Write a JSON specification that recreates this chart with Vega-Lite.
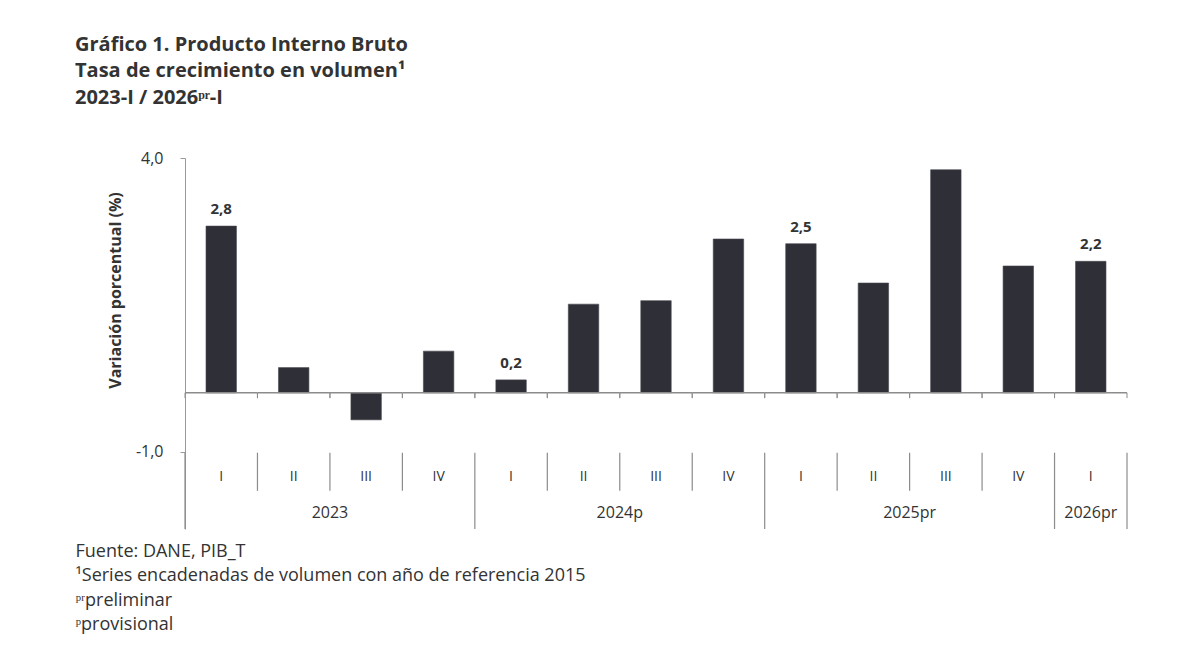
{
  "$schema": "https://vega.github.io/schema/vega-lite/v6.json",
  "width": 942,
  "height": 371,
  "autosize": {"type": "pad"},
  "padding": {"left": 75, "top": 34, "right": 20, "bottom": 10},
  "background": "white",
  "title": {
    "text": ["Gráfico 1. Producto Interno Bruto", "Tasa de crecimiento en volumen¹", "2023-I / 2026ᵖʳ-I"],
    "anchor": "start",
    "frame": "bounds",
    "font": "Open Sans",
    "fontSize": 20,
    "fontWeight": "bold",
    "color": "#333333",
    "lineHeight": 26.5,
    "offset": 38
  },
  "data": {
    "values": [
      {"q": "2023-I", "quarter": "I", "year": "2023", "value": 2.84, "label": "2,8"},
      {"q": "2023-II", "quarter": "II", "year": "2023", "value": 0.43, "label": ""},
      {"q": "2023-III", "quarter": "III", "year": "2023", "value": -0.46, "label": ""},
      {"q": "2023-IV", "quarter": "IV", "year": "2023", "value": 0.71, "label": ""},
      {"q": "2024-I", "quarter": "I", "year": "2024p", "value": 0.22, "label": "0,2"},
      {"q": "2024-II", "quarter": "II", "year": "2024p", "value": 1.51, "label": ""},
      {"q": "2024-III", "quarter": "III", "year": "2024p", "value": 1.57, "label": ""},
      {"q": "2024-IV", "quarter": "IV", "year": "2024p", "value": 2.62, "label": ""},
      {"q": "2025-I", "quarter": "I", "year": "2025pr", "value": 2.54, "label": "2,5"},
      {"q": "2025-II", "quarter": "II", "year": "2025pr", "value": 1.87, "label": ""},
      {"q": "2025-III", "quarter": "III", "year": "2025pr", "value": 3.8, "label": ""},
      {"q": "2025-IV", "quarter": "IV", "year": "2025pr", "value": 2.16, "label": ""},
      {"q": "2026-I", "quarter": "I", "year": "2026pr", "value": 2.24, "label": "2,2"}
    ]
  },
  "layer": [
    {
      "mark": {"type": "bar", "width": {"band": 0.42}, "color": "#2f2f38", "stroke": "#44444e", "strokeWidth": 0.6},
      "encoding": {
        "x": {
          "field": "q", "type": "nominal", "sort": null,
          "scale": {"paddingInner": 0, "paddingOuter": 0},
          "axis": {
            "labels": false, "ticks": false, "domain": false,
            "title": ["Fuente: DANE, PIB_T", "¹Series encadenadas de volumen con año de referencia 2015", "ᵖʳpreliminar", "ᵖprovisional"],
            "titleAnchor": "start", "titleAlign": "left", "titleBaseline": "top",
            "titleX": -110, "titleY": 13,
            "titleFont": "Open Sans", "titleFontSize": 18, "titleFontWeight": "normal",
            "titleColor": "#333333", "titleLineHeight": 24.5
          }
        },
        "y": {
          "field": "value", "type": "quantitative",
          "scale": {"domain": [-2.32, 4], "nice": false, "zero": false},
          "axis": {
            "values": [-1, 4], "grid": false,
            "labelExpr": "replace(replace(format(datum.value, '.1f'), '.', ','), '−', '-')",
            "title": "Variación porcentual (%)",
            "titleFont": "Open Sans", "titleFontSize": 16, "titleFontWeight": "bold", "titleColor": "#333333",
            "titlePadding": 12, "titleY": 132,
            "labelFont": "Open Sans", "labelFontSize": 16, "labelColor": "#333333", "labelPadding": 17,
            "domainColor": "#999999", "tickColor": "#999999", "tickSize": 5
          }
        }
      }
    },
    {
      "mark": {"type": "rule", "color": "#8c8c8c", "strokeWidth": 1.5},
      "encoding": {
        "x": {"field": "q", "type": "nominal", "sort": null, "bandPosition": 0},
        "x2": {"field": "q", "bandPosition": 1},
        "y": {"datum": 0}
      }
    },
    {
      "mark": {"type": "rule", "color": "#8c8c8c", "strokeWidth": 1},
      "encoding": {
        "x": {"field": "q", "type": "nominal", "sort": null, "bandPosition": 0},
        "y": {"datum": 0},
        "y2": {"datum": -0.09}
      }
    },
    {
      "mark": {"type": "rule", "color": "#8c8c8c", "strokeWidth": 1},
      "encoding": {
        "x": {"field": "q", "type": "nominal", "sort": null, "bandPosition": 1},
        "y": {"datum": 0},
        "y2": {"datum": -0.09}
      }
    },
    {
      "mark": {"type": "text", "font": "Open Sans", "fontSize": 15, "fontWeight": "bold", "color": "#333333", "baseline": "bottom", "dy": -9},
      "encoding": {
        "x": {"field": "q", "type": "nominal", "sort": null},
        "y": {"field": "value", "type": "quantitative"},
        "text": {"field": "label"}
      }
    },
    {
      "mark": {"type": "text", "font": "Open Sans", "fontSize": 14, "color": "#333333", "baseline": "middle"},
      "encoding": {
        "x": {"field": "q", "type": "nominal", "sort": null},
        "y": {"datum": -1.43},
        "text": {"field": "quarter"}
      }
    },
    {
      "transform": [{"filter": "datum.quarter != 'I'"}],
      "mark": {"type": "rule", "color": "#8c8c8c", "strokeWidth": 1.2},
      "encoding": {
        "x": {"field": "q", "type": "nominal", "sort": null, "bandPosition": 0},
        "y": {"datum": -1.02},
        "y2": {"datum": -1.67}
      }
    },
    {
      "transform": [{"filter": "datum.quarter == 'I'"}],
      "mark": {"type": "rule", "color": "#8c8c8c", "strokeWidth": 1.2},
      "encoding": {
        "x": {"field": "q", "type": "nominal", "sort": null, "bandPosition": 0},
        "y": {"datum": -1.02},
        "y2": {"datum": -2.32}
      }
    },
    {
      "transform": [{"filter": "datum.year == '2026pr'"}],
      "mark": {"type": "rule", "color": "#8c8c8c", "strokeWidth": 1.2},
      "encoding": {
        "x": {"field": "q", "type": "nominal", "sort": null, "bandPosition": 1},
        "y": {"datum": -1.02},
        "y2": {"datum": -2.32}
      }
    },
    {
      "transform": [{"filter": "datum.quarter == 'II'"}],
      "mark": {"type": "text", "font": "Open Sans", "fontSize": 16, "color": "#333333", "baseline": "middle"},
      "encoding": {
        "x": {"field": "q", "type": "nominal", "sort": null, "bandPosition": 1},
        "y": {"datum": -2.04},
        "text": {"field": "year"}
      }
    },
    {
      "transform": [{"filter": "datum.year == '2026pr'"}],
      "mark": {"type": "text", "font": "Open Sans", "fontSize": 16, "color": "#333333", "baseline": "middle"},
      "encoding": {
        "x": {"field": "q", "type": "nominal", "sort": null},
        "y": {"datum": -2.04},
        "text": {"field": "year"}
      }
    }
  ],
  "config": {"view": {"stroke": null}}
}
